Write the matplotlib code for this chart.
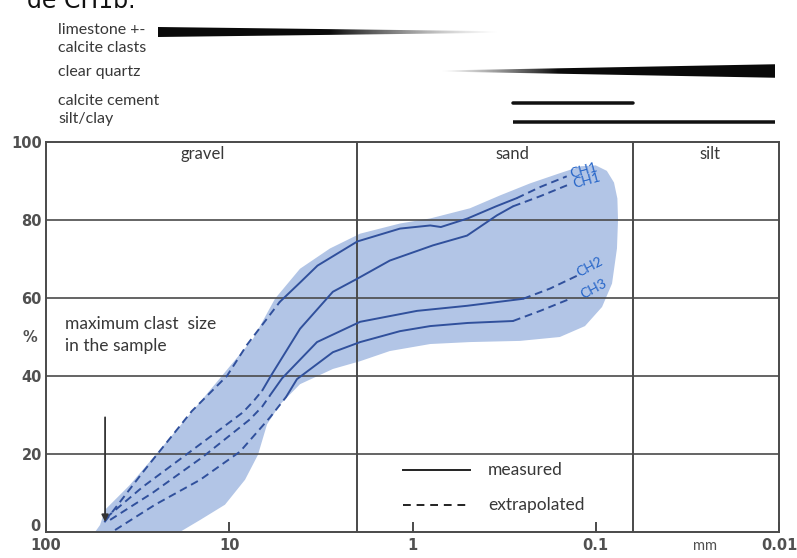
import numpy as np
import matplotlib
matplotlib.use("Agg")
import matplotlib.pyplot as plt
import matplotlib.ticker as mticker
import matplotlib.transforms as mtransforms

plt.rcParams['font.family'] = ['Lato', 'DejaVu Sans']

# ---------------------------------------------------------------
# Cumulative grain-size curves: grain size (mm) vs. percent finer
# "ext" = extrapolated part, "meas" = measured part
# ---------------------------------------------------------------
ch1a_ext1_mm = [48, 30, 16, 10.3, 8.0, 5.3]
ch1a_ext1_pct = [2.5, 15, 31, 40, 48, 59]
ch1a_meas_mm = [5.3, 4.1, 3.3, 2.0, 1.17, 0.80, 0.70, 0.50, 0.35, 0.27]
ch1a_meas_pct = [59, 64, 68.3, 74.5, 77.8, 78.6, 78.2, 80.4, 83.5, 85.6]
ch1a_ext2_mm = [0.27, 0.20, 0.144]
ch1a_ext2_pct = [85.6, 88.5, 91.2]

ch1b_ext1_mm = [47.1, 29.6, 15.8, 8.41, 7.3, 6.6]
ch1b_ext1_pct = [3.6, 11.6, 21.1, 30.7, 33.8, 36.3]
ch1b_meas_mm = [6.6, 5.9, 4.11, 2.72, 2.01, 1.33, 0.773, 0.504, 0.346, 0.283]
ch1b_meas_pct = [36.3, 40.2, 52.1, 61.6, 64.9, 69.6, 73.5, 76.0, 81.2, 83.5]
ch1b_ext2_mm = [0.283, 0.201, 0.1435]
ch1b_ext2_pct = [83.5, 86.1, 88.9]

ch2_ext1_mm = [44.7, 26.1, 13.9, 7.70, 6.6, 6.0]
ch2_ext1_pct = [3.1, 10.1, 19.3, 28.9, 32.2, 35.0]
ch2_meas_mm = [6.0, 5.15, 3.32, 1.93, 0.945, 0.504, 0.249]
ch2_meas_pct = [35.0, 39.4, 48.7, 53.9, 56.7, 58.0, 59.8]
ch2_ext2_mm = [0.249, 0.178, 0.1266]
ch2_ext2_pct = [59.8, 62.4, 65.7]

ch3_ext1_mm = [42.0, 25.4, 14.4, 8.74, 5.99, 4.9]
ch3_ext1_pct = [0.5, 7.0, 13.4, 20.6, 29.4, 34.6]
ch3_meas_mm = [4.9, 4.27, 2.72, 1.93, 1.17, 0.80, 0.50, 0.283]
ch3_meas_pct = [34.6, 39.2, 46.1, 48.7, 51.5, 52.8, 53.6, 54.1]
ch3_ext2_mm = [0.283, 0.201, 0.138]
ch3_ext2_pct = [54.1, 56.7, 59.8]

# Envelope of all samples (closed outline)
env_mm = [54.0, 50.7, 47.6, 34.8, 23.9, 16.4, 11.96, 8.74, 7.42, 5.63, 4.11,
          2.82, 1.93, 1.17, 0.80, 0.486, 0.333, 0.228, 0.157, 0.12, 0.1, 0.087,
          0.0795, 0.0762, 0.0756, 0.0766, 0.0815, 0.0924, 0.1145, 0.157, 0.259, 0.486,
          0.80, 1.33, 1.93, 2.72, 4.11, 5.28, 6.22, 6.97, 8.20, 10.55, 14.4, 18.6]
env_pct = [0, 1.8, 5.7, 12.1, 21.1, 30.2, 37.9, 45.6, 49.5, 59.8, 67.5,
           72.7, 76.5, 79.1, 80.4, 83.0, 86.3, 89.4, 92.0, 93.8, 94.0, 92.6,
           89.6, 85.5, 80.0, 72.7, 63.7, 57.7, 52.8, 50.0, 49.0, 48.7,
           48.2, 46.4, 43.8, 41.8, 37.9, 32.7, 27.6, 19.8, 13.4, 7.0, 3.1, 0]

curve_labels = ["CH1", "CH1", "CH2", "CH3"]
label_mm = [0.137, 0.132, 0.126, 0.119]
label_pct = [91.8, 89.2, 66.2, 60.6]
label_rot = [15, 15, 28, 28]

# Size classes and boundaries (mm)
class_names = ["gravel", "sand", "silt"]
class_mm = [13.9, 0.286, 0.0238]
class_bounds_mm = [2.0, 0.063]

x_ticks = [100, 10, 1, 0.1, 0.01]
x_ticklabels = ["100", "10", "1", "0.1", "0.01"]
y_ticks = [0, 20, 40, 60, 80, 100]

# Components present in each size range (mm, coarse -> fine)
comp_labels = [("limestone +-", 30), ("calcite clasts", 48), ("clear quartz", 72),
               ("calcite cement", 101), ("silt/clay", 119)]
clasts_range = (24.5, 0.33)
quartz_range = (0.71, 0.0105)
cement_range = (0.283, 0.0626)
siltclay_range = (0.283, 0.0105)

max_clast_mm = 47.6

LINE = "#30509c"
FILL = "#b2c5e6"
GRID = "#4a4a4a"
TXT = "#383838"
TICK = "#505050"

W, H = 797, 558
fig = plt.figure(figsize=(W / 100, H / 100), dpi=100)

ax = fig.add_axes([46 / W, 1 - 532 / H, 733 / W, 390 / H])
ax.set_xscale("log")
ax.set_xlim(100, 0.01)
ax.set_ylim(0, 100)

ax.fill(env_mm, env_pct, color=FILL, lw=0, zorder=1)

for v in y_ticks[1:-1]:
    ax.axhline(v, color=GRID, lw=1.2, zorder=2)
for b in class_bounds_mm:
    ax.axvline(b, color=GRID, lw=1.4, zorder=2)

segments = [
    (ch1a_ext1_mm, ch1a_ext1_pct, "--"), (ch1a_meas_mm, ch1a_meas_pct, "-"), (ch1a_ext2_mm, ch1a_ext2_pct, "--"),
    (ch1b_ext1_mm, ch1b_ext1_pct, "--"), (ch1b_meas_mm, ch1b_meas_pct, "-"), (ch1b_ext2_mm, ch1b_ext2_pct, "--"),
    (ch2_ext1_mm, ch2_ext1_pct, "--"), (ch2_meas_mm, ch2_meas_pct, "-"), (ch2_ext2_mm, ch2_ext2_pct, "--"),
    (ch3_ext1_mm, ch3_ext1_pct, "--"), (ch3_meas_mm, ch3_meas_pct, "-"), (ch3_ext2_mm, ch3_ext2_pct, "--"),
]
for xs, ys, ls in segments:
    if ls == "--":
        ax.plot(xs, ys, color=LINE, lw=1.4, zorder=3, dashes=(4, 2.5))
    else:
        ax.plot(xs, ys, color=LINE, lw=1.4, zorder=3,
                solid_joinstyle="round", solid_capstyle="round")

for t, xm, yp, r in zip(curve_labels, label_mm, label_pct, label_rot):
    ax.text(xm, yp, t, color="#2464c8", fontsize=10, rotation=r,
            ha="left", va="center", zorder=4, rotation_mode="anchor")

for name, xm in zip(class_names, class_mm):
    ax.text(xm, 96.8, name, color=TXT, fontsize=12, ha="center", va="center")

for s in ax.spines.values():
    s.set_color(GRID)
    s.set_linewidth(1.4)

ax.set_xticks(x_ticks)
ax.set_xticklabels(x_ticklabels)
ax.xaxis.set_minor_locator(mticker.NullLocator())
ax.tick_params(axis="x", direction="in", length=7, width=1.4, color=GRID,
               labelsize=10.5, labelcolor=TICK, pad=4)
ax.set_yticks(y_ticks)
ax.tick_params(axis="y", length=0, labelsize=10.5, labelcolor=TICK, pad=3)
for lab in ax.get_xticklabels() + ax.get_yticklabels():
    lab.set_fontweight("bold")
    lab.set_family(["DejaVu Sans"])
# lift the bottom "0" a little so it clears the "100" below it
zero_lab = ax.get_yticklabels()[0]
zero_lab.set_transform(zero_lab.get_transform() +
                       mtransforms.ScaledTranslation(-1 / 72, 5 / 72, fig.dpi_scale_trans))

ax.text(-0.022, 0.50, "%", transform=ax.transAxes, fontsize=10.5, color=TICK,
        fontweight="bold", ha="center", va="center", family=["DejaVu Sans"])
ax.text(0.0254, -0.035, "mm", transform=ax.get_xaxis_transform(), fontsize=10.5,
        color=TICK, ha="center", va="center")

ax.text(78.8, 53.4, "maximum clast  size", fontsize=12.5, color=TXT, va="center")
ax.text(78.8, 47.7, "in the sample", fontsize=12.5, color=TXT, va="center")
ax.annotate("", xy=(max_clast_mm, 2.6), xytext=(max_clast_mm, 29.4),
            arrowprops=dict(arrowstyle="-|>", color="#333333", lw=1.3,
                            mutation_scale=10, shrinkA=0, shrinkB=0), zorder=5)

# legend drawn inside the plot
ax.plot([1.127, 0.486], [16.0, 16.0], color="#222222", lw=1.4)
ax.plot([1.127, 0.486], [7.0, 7.0], color="#222222", lw=1.4, dashes=(4, 3))
ax.text(0.387, 16.0, "measured", fontsize=12.5, color=TXT, va="center")
ax.text(0.387, 7.0, "extrapolated", fontsize=12.5, color=TXT, va="center")

# ------------------ component bars above the chart ------------------
top = fig.add_axes([46 / W, 1 - 140 / H, 733 / W, 140 / H])
top.set_xscale("log")
top.axis("off")


def tapered_bar(axx, rng, y, w0, w1, alpha_fn, n=300, ncol=4096):
    """Bar whose thickness changes along its length and that fades out."""
    lx = np.linspace(np.log10(rng[0]), np.log10(rng[1]), n)
    xs = 10 ** lx
    w = np.linspace(w0, w1, n)
    poly = axx.fill(np.r_[xs, xs[::-1]], np.r_[y - w / 2, (y + w / 2)[::-1]],
                    color="none", lw=0)[0]
    # image columns are resampled linearly in mm, so position each column
    # along the log axis before evaluating the opacity profile
    col_mm = np.linspace(rng[0], rng[1], ncol)
    t = (np.log10(col_mm) - np.log10(rng[0])) / (np.log10(rng[1]) - np.log10(rng[0]))
    rgba = np.zeros((1, ncol, 4))
    rgba[..., :3] = 0.04
    rgba[0, :, 3] = alpha_fn(t)
    hw = max(w0, w1) / 2 + 1
    im = axx.imshow(rgba, extent=[rng[0], rng[1], y + hw, y - hw],
                    aspect="auto", interpolation="bilinear", zorder=2)
    im.set_clip_path(poly)


tapered_bar(top, clasts_range, 32, 10, 1.5,
            lambda t: np.clip(1 - (t - 0.5) / 0.5, 0, 1) ** 1.4)
tapered_bar(top, quartz_range, 71, 1.0, 13.5,
            lambda t: np.clip(t / 0.35, 0, 1) ** 1.2)
top.plot(cement_range, [103, 103], color="#111111", lw=3.5 * 0.72, solid_capstyle="round")
top.plot(siltclay_range, [122, 122], color="#111111", lw=3.5 * 0.72, solid_capstyle="butt")
top.set_xlim(100, 0.01)
top.set_ylim(140, 0)

for txt, ypx in comp_labels:
    fig.text(58 / W, 1 - ypx / H, txt, fontsize=11.5, color=TXT, va="center", ha="left")

fig.text(27 / W, 1 - 8 / H, "de CH1b.", fontsize=17, color="#111111",
         va="baseline", ha="left", family=["DejaVu Sans"])

fig.savefig("out.png", dpi=100, facecolor="white")
